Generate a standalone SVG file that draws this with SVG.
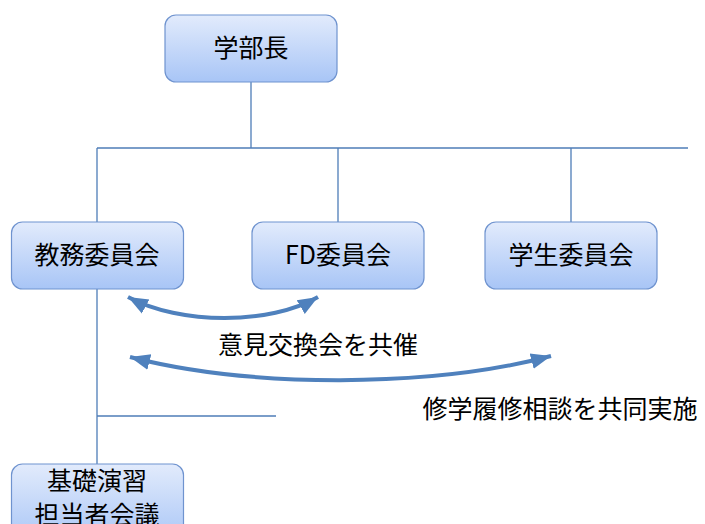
<svg xmlns="http://www.w3.org/2000/svg" width="705" height="524" viewBox="0 0 705 524">
<style>
.box{fill:url(#g);stroke:#6f93cf;stroke-width:1.2}
.t{font-family:"Noto Sans CJK JP","Noto Sans CJK SC",sans-serif;font-size:25px;fill:#000;text-anchor:middle}
.ln{stroke:#4f7db8;stroke-width:1.3;fill:none}
.ar{stroke:#4f81bd;stroke-width:4;fill:none;marker-start:url(#ah);marker-end:url(#ah)}
</style>
<defs>
<linearGradient id="g" x1="0" y1="0" x2="0" y2="1">
<stop offset="0" stop-color="#e2ebfc"/>
<stop offset="1" stop-color="#a8c5f6"/>
</linearGradient>
<marker id="ah" markerUnits="userSpaceOnUse" markerWidth="22" markerHeight="18" refX="20" refY="9" orient="auto-start-reverse">
<path d="M0,1 L20,9 L0,17 z" fill="#4f81bd"/>
</marker>
</defs>
<rect width="705" height="524" fill="#fff"/>
<g id="connectors">
<path class="ln" d="M251,82 V148 M97,148 H688 M97,148 V222 M338,148 V222 M571,148 V222 M97,289 V464 M97,416 H276"/>
<path class="ar" d="M128,297 C180,325 270,325 318,297"/>
<path class="ar" d="M130,357 C250,388 430,388 551,356"/>
</g>
<g id="dean"><rect class="box" x="165" y="15" width="172" height="67" rx="11"/><text class="t" x="251" y="57">学部長</text></g>
<g id="kyomu"><rect class="box" x="11.5" y="222" width="172" height="67" rx="11"/><text class="t" x="97" y="264">教務委員会</text></g>
<g id="fd"><rect class="box" x="252" y="222" width="172" height="67" rx="11"/><text class="t" x="338" y="264">FD委員会</text></g>
<g id="gakusei"><rect class="box" x="485" y="222" width="172" height="67" rx="11"/><text class="t" x="571" y="264">学生委員会</text></g>
<g id="kiso"><rect class="box" x="11.5" y="464" width="172" height="80" rx="11"/><text class="t" x="97" y="490">基礎演習</text><text class="t" x="97" y="524">担当者会議</text></g>
<g id="labels">
<text class="t" x="318" y="354">意見交換会を共催</text>
<text class="t" x="560" y="418">修学履修相談を共同実施</text>
</g>
</svg>
